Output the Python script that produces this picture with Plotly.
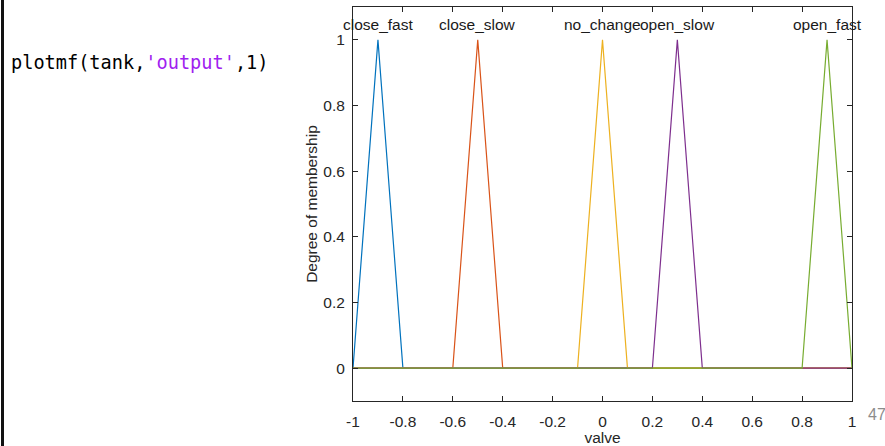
import plotly.graph_objects as go

# Output membership functions of the "tank" fuzzy system (variable: valve)
mf_names = ["close_fast", "close_slow", "no_change", "open_slow", "open_fast"]
mf_peaks = [-0.9, -0.5, 0.0, 0.3, 0.9]
mf_x = [
    [-1.0, -0.9, -0.8, 1.0],
    [-1.0, -0.6, -0.5, -0.4, 1.0],
    [-1.0, -0.1, 0.0, 0.1, 1.0],
    [-1.0, 0.2, 0.3, 0.4, 1.0],
    [-1.0, 0.8, 0.9, 1.0],
]
mf_y = [
    [0, 1, 0, 0],
    [0, 0, 1, 0, 0],
    [0, 0, 1, 0, 0],
    [0, 0, 1, 0, 0],
    [0, 0, 1, 0],
]
mf_colors = ["#0072BD", "#D95319", "#EDB120", "#7E2F8E", "#77AC30"]

x_ticks = [-1, -0.8, -0.6, -0.4, -0.2, 0, 0.2, 0.4, 0.6, 0.8, 1]
x_tick_text = ["-1", "-0.8", "-0.6", "-0.4", "-0.2", "0", "0.2", "0.4", "0.6", "0.8", "1"]
y_ticks = [0, 0.2, 0.4, 0.6, 0.8, 1]
y_tick_text = ["0", "0.2", "0.4", "0.6", "0.8", "1"]

W, H = 885, 446
L, R, T, B = 353, 33, 7, 45
plot_w = W - L - R

def px_to_paper_x(px):
    return (px - L) / plot_w

def py_to_paper_y(py):
    return (H - B - py) / (H - T - B)

AXIS_COLOR = "#262626"
FONT = "Liberation Sans, Arial, sans-serif"
FS = 15.5

fig = go.Figure()
for name, xs, ys, c in zip(mf_names, mf_x, mf_y, mf_colors):
    fig.add_trace(go.Scatter(x=xs, y=ys, mode="lines", name=name,
                             line=dict(color=c, width=1.2), showlegend=False))

# MF names above each peak
for name, px in zip(mf_names, mf_peaks):
    fig.add_annotation(x=px, y=1.047, xref="x", yref="y", text=name, showarrow=False,
                       xanchor="center", yanchor="middle",
                       font=dict(family=FONT, size=FS, color="#1a1a1a"))

# Command line shown to the left of the axes
fig.add_annotation(x=px_to_paper_x(9), y=py_to_paper_y(63), xref="paper", yref="paper",
                   xanchor="left", yanchor="middle", showarrow=False,
                   text="plotmf(tank,<span style='color:#A020F0'>'output'</span>,1)",
                   font=dict(family="DejaVu Sans Mono, monospace", size=18.6, color="#000000"))

# Page number
fig.add_annotation(x=px_to_paper_x(866), y=py_to_paper_y(414), xref="paper", yref="paper",
                   xanchor="left", yanchor="middle", showarrow=False, text="47",
                   font=dict(family=FONT, size=16, color="#8c8c8c"))

# Slide border on the left
fig.add_shape(type="line", xref="paper", yref="paper",
              x0=px_to_paper_x(2.5), x1=px_to_paper_x(2.5),
              y0=py_to_paper_y(0), y1=py_to_paper_y(446),
              line=dict(color="#111111", width=3))

axis_common = dict(showline=True, linecolor=AXIS_COLOR, linewidth=1, mirror="ticks",
                   ticks="inside", ticklen=5, tickwidth=1, tickcolor=AXIS_COLOR,
                   showgrid=False, zeroline=False, automargin=False,
                   tickfont=dict(family=FONT, size=FS, color=AXIS_COLOR))

fig.update_xaxes(range=[-1, 1], tickvals=x_ticks, ticktext=x_tick_text,
                 ticklabelstandoff=6,
                 title=dict(text="valve", standoff=6,
                            font=dict(family=FONT, size=FS, color=AXIS_COLOR)),
                 **axis_common)
fig.update_yaxes(range=[-0.1, 1.1], tickvals=y_ticks, ticktext=y_tick_text,
                 ticklabelstandoff=4,
                 title=dict(text="Degree of membership", standoff=1,
                            font=dict(family=FONT, size=FS, color=AXIS_COLOR)),
                 **axis_common)

fig.update_layout(width=W, height=H, margin=dict(l=L, r=R, t=T, b=B),
                  paper_bgcolor="white", plot_bgcolor="white")

fig.write_html("out.html")
